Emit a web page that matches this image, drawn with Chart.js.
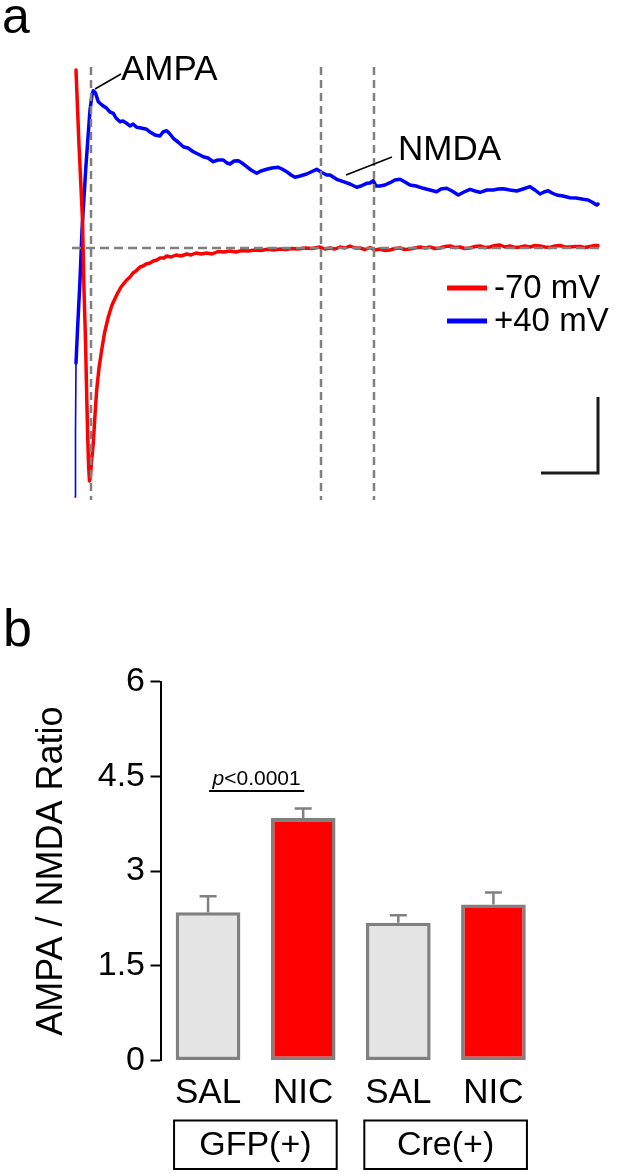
<!DOCTYPE html>
<html><head><meta charset="utf-8">
<script src="https://cdn.jsdelivr.net/npm/chart.js@4.4.1/dist/chart.umd.min.js"></script>
<style>
html,body{margin:0;padding:0;background:#fff;width:625px;height:1174px;overflow:hidden;}
#ca{position:absolute;left:0;top:0;}
#cb{position:absolute;left:0;top:560px;}
</style></head><body>
<canvas id="ca" width="625" height="560"></canvas>
<canvas id="cb" width="625" height="614"></canvas>
<script>
const FONT = "'Liberation Sans', Arial, Helvetica, sans-serif";

// ===== Panel a: example EPSC traces, [time (ms), current (pA, baseline = 0)] =====
const traceLabels = ['-70 mV', '+40 mV'];
const traceColors = ['#ff0000', '#0000ff'];
const traceMinus70 = [
  [16,178],[19,103],[22.5,28],[24,-42],[25.5,-92],[26.8,-152],[27.8,-192],[28.7,-220],[29.5,-233],
  [30.5,-228],[31.5,-214],[33.3,-195],[35,-167],[36.7,-142],[39,-120],[41.7,-102],[44.5,-85],
  [48.3,-69],[52,-57],[56.7,-47],[61,-39],[66.7,-32],[70,-29],[73,-25],[76,-23],[80,-19],[83,-18],[86,-16],
  [90,-15],[93.3,-13],[97,-12],[100,-10],[104,-10],[106.7,-8],[111,-9],[116,-7],[121,-8],[126.7,-6],[131,-7],
  [136,-5],[141,-6],[146.7,-5],[152,-6],[158,-3.5],[164,-4],[170,-3],[176,-4],[182,-2.5],[188,-3],
  [195,-2],[201,-2.5],[207,-1.3],[214,-2],[220,-1],[226,-1.5],[232,-0.5],[238,-1],[245,0],[252,-0.5],
  [260,1],[265,-1],[270,0],[275,-1],[280,1],[285,0],[290,2],[295,0],[300,0],[305,-1.5],[310,0.5],
  [315,-2],[320,-1],[325,-2.5],[330,-2],[335,-0.5],[340,0],[345,-1.5],[350,-1],[355,0],[360,1],
  [365,0],[370,1],[375,-0.5],[380,0],[385,1.5],[390,2],[395,0.5],[400,1],[405,-0.5],[410,0],[415,1.5],
  [420,2],[425,0.5],[430,1],[435,2.5],[440,3],[445,1],[450,2],[455,0.5],[460,1],[465,2],[470,1],
  [475,2.5],[480,2],[485,1],[490,0.5],[495,2],[500,2.5],[505,1],[510,1],[515,1.5],[520,1.5],[525,0.5],
  [530,1.5],[535,2.5],[538,2.5]
];
const tracePlus40 = [
  [15,-249],[15.5,-182],[16,-115],[17.5,-82],[20,-32],[22,18],[26,83],[30,138],[32,153],[33.3,157.3],
  [35.5,155],[38.3,146.3],[42,143],[46.7,139.7],[50,136],[53.3,134.7],[56,130],[60,126.3],[63,127],
  [66.7,124.7],[70,122],[73,124],[76.7,120.7],[81,120],[86.7,118.7],[90,116],[95,113],[100,112],
  [103,116],[106.7,117.3],[110,114],[113.3,109.7],[118,106],[123.3,101.3],[128,100],[133.3,96.3],
  [138,94],[143.3,91.3],[148,90],[153.3,86.3],[158,88],[163.3,88],[167,85],[170,84],[174,87],
  [178.3,87.3],[182,85],[186.7,81.3],[191,78],[196.7,74.7],[201,77],[206.7,78.7],[212,80],[218.3,80.7],
  [222,79],[226.7,76.3],[231,73],[235,70.7],[240,72],[246.7,74],[251,76],[256.7,78.7],[261,76],
  [266.7,73],[270,73],[276.7,68.7],[283.3,66.3],[290,64],[296.7,60.7],[301,62],[306.7,64.7],[310,65],
  [313.3,67.3],[316,62],[320,62],[325,63],[330,65.3],[335,68],[340,68.7],[345,66],[350,63],[356,62],
  [363.3,59.7],[370,58],[376.7,56.3],[381,59],[386.7,59.7],[392,57],[398.3,53],[404,56],[410,58.7],
  [415,57],[420,55.7],[427,58],[433.3,58],[438,59],[443.3,59.3],[450,58],[456.7,57],[463,59],
  [470,61.3],[475,58],[480,54],[484,56],[488.3,57.3],[492,55],[496.7,53],[503,52],[510,50.3],
  [516,50],[523.3,48.7],[528,48],[532,46],[536.7,43],[538,44]
];
const cursorTimes = [31, 261, 314];        // AMPA peak, NMDA window
const scaleBarMs = 57, scaleBarPA = 76;

// ===== Panel b: AMPA/NMDA ratio =====
const categories = ['SAL', 'NIC', 'SAL', 'NIC'];
const groupNames = ['GFP(+)', 'Cre(+)'];
const ratioMeans = [2.35, 3.84, 2.18, 2.47];
const ratioSEM = [0.25, 0.15, 0.12, 0.19];
const barColors = ['#e5e5e5', '#ff0000', '#e5e5e5', '#ff0000'];
const yTickValues = [0, 1.5, 3, 4.5, 6];
const pValueLabel = ['p', '<0.0001'];
const sigLevel = 4.27;

const toXY = arr => arr.map(p => ({x: p[0], y: p[1]}));

const pluginA = {
  id: 'annotA',
  afterDatasetsDraw(chart) {
    const {ctx, scales: {x, y}} = chart;
    ctx.save();
    // dashed reference lines
    ctx.strokeStyle = '#808080'; ctx.lineWidth = 2.5; ctx.setLineDash([9, 5]);
    ctx.beginPath();
    ctx.moveTo(x.getPixelForValue(12), y.getPixelForValue(0));
    ctx.lineTo(x.getPixelForValue(540), y.getPixelForValue(0));
    ctx.stroke();
    ctx.setLineDash([8, 5]);
    cursorTimes.forEach(t => {
      ctx.beginPath();
      ctx.moveTo(x.getPixelForValue(t), y.getPixelForValue(181));
      ctx.lineTo(x.getPixelForValue(t), y.getPixelForValue(-252));
      ctx.stroke();
    });
    ctx.setLineDash([]);
    // scale bar
    const sx1 = x.getPixelForValue(538), sx0 = x.getPixelForValue(538 - scaleBarMs);
    const sy1 = y.getPixelForValue(-225), sy0 = y.getPixelForValue(-225 + scaleBarPA);
    ctx.strokeStyle = '#1a1a1a'; ctx.lineWidth = 3; ctx.lineCap = 'butt';
    ctx.beginPath(); ctx.moveTo(sx0, sy1); ctx.lineTo(sx1, sy1); ctx.lineTo(sx1, sy0); ctx.stroke();
    // legend
    ctx.font = '33px ' + FONT; ctx.textBaseline = 'middle'; ctx.textAlign = 'left';
    const legY = [288, 321];
    chart.data.datasets.forEach((ds, i) => {
      ctx.strokeStyle = ds.borderColor; ctx.lineWidth = 5;
      ctx.beginPath(); ctx.moveTo(447, legY[i]); ctx.lineTo(487, legY[i]); ctx.stroke();
      ctx.fillStyle = '#000'; ctx.fillText(ds.label, 494, legY[i] + 1);
    });
    // AMPA / NMDA labels with leader lines
    ctx.strokeStyle = '#000'; ctx.lineWidth = 1.5;
    ctx.beginPath(); ctx.moveTo(95, 89); ctx.lineTo(121, 74); ctx.stroke();
    ctx.beginPath(); ctx.moveTo(346, 175); ctx.lineTo(392, 157); ctx.stroke();
    ctx.font = '35px ' + FONT; ctx.textBaseline = 'alphabetic'; ctx.fillStyle = '#000';
    ctx.fillText('AMPA', 121, 80);
    ctx.fillText('NMDA', 398, 160);
    // panel label
    ctx.font = '50px ' + FONT;
    ctx.fillText('a', 2, 33);
    ctx.restore();
  }
};

new Chart(document.getElementById('ca'), {
  type: 'line',
  data: {datasets: [
    {label: traceLabels[0], data: toXY(traceMinus70), borderColor: traceColors[0], borderWidth: 3.5,
     pointRadius: 0, tension: 0, fill: false},
    {label: traceLabels[1], data: toXY(tracePlus40), borderColor: traceColors[1], borderWidth: 3.5,
     pointRadius: 0, tension: 0, fill: false,
     segment: {borderWidth: c => c.p0DataIndex < 2 ? 1.6 : 3.5}}
  ]},
  options: {
    responsive: false, animation: false, devicePixelRatio: 1,
    layout: {padding: {left: 60, right: 25, top: 30, bottom: 50}},
    plugins: {legend: {display: false}, tooltip: {enabled: false}},
    elements: {line: {borderJoinStyle: 'round', borderCapStyle: 'round'}},
    scales: {
      x: {type: 'linear', min: 0, max: 540, display: false},
      y: {type: 'linear', min: -262, max: 218, display: false}
    }
  },
  plugins: [pluginA]
});

const pluginB = {
  id: 'annotB',
  afterDatasetsDraw(chart) {
    const {ctx, scales: {x, y}} = chart;
    const meta = chart.getDatasetMeta(0);
    ctx.save();
    ctx.strokeStyle = '#808080'; ctx.lineWidth = 2.5;
    meta.data.forEach((bar, i) => {
      const yt = y.getPixelForValue(ratioMeans[i]);
      const ye = y.getPixelForValue(ratioMeans[i] + ratioSEM[i]);
      ctx.beginPath();
      ctx.moveTo(bar.x, yt); ctx.lineTo(bar.x, ye);
      ctx.moveTo(bar.x - 8.5, ye); ctx.lineTo(bar.x + 8.5, ye);
      ctx.stroke();
    });
    ctx.restore();
  },
  afterDraw(chart) {
    const {ctx, scales: {x, y}, chartArea} = chart;
    ctx.save();
    // significance bar
    const x0 = x.getPixelForValue(0), x1 = x.getPixelForValue(1);
    const ys = y.getPixelForValue(sigLevel);
    ctx.strokeStyle = '#000'; ctx.lineWidth = 2;
    ctx.beginPath(); ctx.moveTo(x0 + 1, ys); ctx.lineTo(x1 + 1, ys); ctx.stroke();
    const fI = 'italic 21px ' + FONT, fN = '21px ' + FONT;
    ctx.font = fI; const w1 = ctx.measureText(pValueLabel[0]).width;
    ctx.font = fN; const w2 = ctx.measureText(pValueLabel[1]).width;
    let tx = (x0 + x1) / 2 + 1 - (w1 + w2) / 2;
    ctx.fillStyle = '#000'; ctx.textBaseline = 'alphabetic'; ctx.textAlign = 'left';
    ctx.font = fI; ctx.fillText(pValueLabel[0], tx, ys - 6);
    ctx.font = fN; ctx.fillText(pValueLabel[1], tx + w1, ys - 6);
    // group boxes
    ctx.lineWidth = 2; ctx.font = '34px ' + FONT; ctx.textAlign = 'center'; ctx.textBaseline = 'middle';
    groupNames.forEach((g, gi) => {
      const l = x.getPixelForValue(gi * 2) - 34, r = x.getPixelForValue(gi * 2 + 1) + 33.5;
      const t = chartArea.bottom + 60, b = chartArea.bottom + 108.5;
      ctx.strokeRect(l, t, r - l, b - t);
      ctx.fillText(g, (l + r) / 2, (t + b) / 2 + 1);
    });
    // panel label
    ctx.textAlign = 'left'; ctx.textBaseline = 'alphabetic'; ctx.font = '52px ' + FONT;
    ctx.fillText('b', 3, 86);
    ctx.restore();
  }
};

new Chart(document.getElementById('cb'), {
  type: 'bar',
  data: {labels: categories, datasets: [{
    data: ratioMeans, backgroundColor: barColors, borderColor: '#808080', borderWidth: 3.5,
    borderSkipped: false, barPercentage: 0.68, categoryPercentage: 1
  }]},
  options: {
    responsive: false, animation: false, devicePixelRatio: 1,
    layout: {padding: {left: 0, right: 84, top: 121.7, bottom: 0}},
    plugins: {legend: {display: false}, tooltip: {enabled: false}},
    scales: {
      x: {
        grid: {display: false}, border: {display: false},
        ticks: {color: '#000', font: {family: FONT, size: 35}, padding: 4, maxRotation: 0, autoSkip: false},
        afterFit(s) { s.height = 113.5; }
      },
      y: {
        min: 0, max: 6,
        afterBuildTicks(s) { s.ticks = yTickValues.map(v => ({value: v})); },
        ticks: {color: '#000', font: {family: FONT, size: 34}, padding: 5.5, callback: v => String(v)},
        grid: {drawOnChartArea: false, drawTicks: true, tickLength: 10, tickWidth: 2, tickColor: '#000'},
        border: {display: true, color: '#000', width: 2},
        title: {display: true, text: 'AMPA / NMDA Ratio', color: '#000',
                font: {family: FONT, size: 36}, padding: {top: 30, bottom: 0}},
        afterFit(s) { s.width = 160.5; }
      }
    }
  },
  plugins: [pluginB]
});
</script>
</body></html>
